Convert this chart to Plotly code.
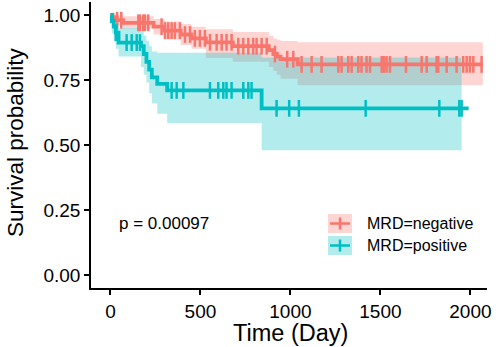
import plotly.graph_objects as go

# ---------------- data ----------------
# MRD=negative (red)
neg_time  = [0, 12, 35, 70, 240, 300, 390, 450, 530, 680, 880, 905, 925, 945, 1040]
neg_surv  = [1.0, 0.99, 0.98, 0.97, 0.955, 0.94, 0.925, 0.91, 0.895, 0.88, 0.865, 0.85, 0.84, 0.83, 0.81]
neg_upper = [1.0, 1.0, 1.0, 0.995, 0.985, 0.975, 0.965, 0.955, 0.945, 0.935, 0.92, 0.91, 0.905, 0.90, 0.895]
neg_lower = [1.0, 0.975, 0.96, 0.948, 0.925, 0.905, 0.885, 0.87, 0.835, 0.82, 0.80, 0.785, 0.77, 0.755, 0.73]
neg_end = 2069
neg_censor = [37, 60, 155, 164, 182, 192, 210, 284, 303, 321, 340, 358, 386, 414, 442, 469, 497,
              525, 553, 590, 618, 645, 673, 710, 738, 766, 793, 812, 840, 868, 914, 982, 1016,
              1062, 1118, 1173, 1266, 1284, 1321, 1340, 1377, 1395, 1423, 1442, 1507, 1519, 1534,
              1553, 1642, 1729, 1757, 1812, 1821, 1868, 1923, 1960, 1979, 1997, 2016, 2062]

# MRD=positive (teal)
pos_time  = [0, 8, 18, 30, 45, 170, 185, 200, 215, 230, 260, 315, 840]
pos_surv  = [1.0, 0.977, 0.955, 0.932, 0.894, 0.88, 0.85, 0.82, 0.79, 0.76, 0.735, 0.71, 0.641]
pos_upper = [1.0, 1.0, 1.0, 0.98, 0.95, 0.945, 0.92, 0.90, 0.88, 0.86, 0.855, 0.855, 0.837]
pos_lower = [1.0, 0.93, 0.90, 0.87, 0.84, 0.80, 0.77, 0.74, 0.70, 0.66, 0.62, 0.585, 0.48]
pos_end = 1990
pos_ci_end = 1951
pos_censor = [30, 90, 118, 146, 164, 340, 368, 405, 553, 599, 627, 645, 673, 738, 766, 784,
              923, 993, 1047, 1418, 1827, 1938, 1951]

groups = ["MRD=negative", "MRD=positive"]
p_text = "p = 0.00097"
x_title = "Time (Day)"
y_title = "Survival probability"
x_ticks = [0, 500, 1000, 1500, 2000]
y_ticks = [0, 0.25, 0.5, 0.75, 1.0]
y_ticklabels = ["0.00", "0.25", "0.50", "0.75", "1.00"]

RED = "#F8766D"
TEAL = "#00BFC4"
RED_FILL = "rgba(248,118,109,0.3)"
TEAL_FILL = "rgba(0,191,196,0.3)"
FONT = "Liberation Sans, Arial, Helvetica, sans-serif"


def step_at(times, vals, t):
    v = vals[0]
    for ti, vi in zip(times, vals):
        if ti <= t:
            v = vi
    return v


fig = go.Figure()

# confidence bands
for times, up, lo, end, fill in [
    (neg_time, neg_upper, neg_lower, neg_end, RED_FILL),
    (pos_time, pos_upper, pos_lower, pos_ci_end, TEAL_FILL),
]:
    xs = times + [end]
    fig.add_trace(go.Scatter(x=xs, y=lo + [lo[-1]], mode="lines", line=dict(width=0, shape="hv"),
                             hoverinfo="skip", showlegend=False))
    fig.add_trace(go.Scatter(x=xs, y=up + [up[-1]], mode="lines", line=dict(width=0, shape="hv"),
                             fill="tonexty", fillcolor=fill, hoverinfo="skip", showlegend=False))

# survival curves
for times, surv, end, col, cens in [
    (neg_time, neg_surv, neg_end, RED, neg_censor),
    (pos_time, pos_surv, pos_end, TEAL, pos_censor),
]:
    fig.add_trace(go.Scatter(x=times + [end], y=surv + [surv[-1]], mode="lines",
                             line=dict(color=col, width=3.8, shape="hv"), showlegend=False))
    fig.add_trace(go.Scatter(x=cens, y=[step_at(times, surv, t) for t in cens], mode="markers",
                             marker=dict(symbol="line-ns", size=12, line=dict(color=col, width=2.5)),
                             showlegend=False))

# ---- manual legend / labels (layout only) ----
def px_x(px):
    return (px - 91) / 396.0


def px_y(py):
    return (288 - py) / 286.0


shapes = []
annotations = []
for i, (name, col, fill) in enumerate(zip(groups, [RED, TEAL], [RED_FILL, TEAL_FILL])):
    top = 214 + i * 22
    yc = top + 9.5
    shapes.append(dict(type="rect", xref="paper", yref="paper", x0=px_x(328), x1=px_x(352),
                       y0=px_y(top + 19), y1=px_y(top), fillcolor=fill, line=dict(width=0)))
    shapes.append(dict(type="line", xref="paper", yref="paper", x0=px_x(330), x1=px_x(350),
                       y0=px_y(yc), y1=px_y(yc), line=dict(color=col, width=2.5)))
    shapes.append(dict(type="line", xref="paper", yref="paper", x0=px_x(340), x1=px_x(340),
                       y0=px_y(yc - 6), y1=px_y(yc + 6), line=dict(color=col, width=2.5)))
    annotations.append(dict(text=name, xref="paper", yref="paper", x=px_x(365), y=px_y(yc),
                            xanchor="left", yanchor="middle", showarrow=False,
                            font=dict(family=FONT, size=16, color="black")))

annotations.append(dict(text=p_text, xref="paper", yref="paper", x=px_x(117), y=px_y(223),
                        xanchor="left", yanchor="middle", showarrow=False,
                        font=dict(family=FONT, size=17, color="black")))
annotations.append(dict(text=x_title, xref="paper", yref="paper", x=px_x(290), y=px_y(347),
                        xanchor="center", yanchor="bottom", showarrow=False, borderpad=0,
                        font=dict(family=FONT, size=23.5, color="black")))
annotations.append(dict(text=y_title, xref="paper", yref="paper", x=px_x(15), y=px_y(142),
                        xanchor="center", yanchor="middle", showarrow=False, textangle=-90,
                        font=dict(family=FONT, size=22.5, color="black")))

fig.update_layout(
    width=498, height=347,
    margin=dict(l=91, r=11, t=2, b=59),
    paper_bgcolor="white", plot_bgcolor="white",
    font=dict(family=FONT, color="black"),
    shapes=shapes, annotations=annotations,
    showlegend=False,
)
fig.update_xaxes(range=[-108, 2092], tickvals=x_ticks, ticks="outside", ticklen=5, tickwidth=1.5,
                 tickcolor="black", showline=True, linecolor="black", linewidth=1.5,
                 showgrid=False, zeroline=False, tickfont=dict(size=19, family=FONT),
                 ticklabelstandoff=0)
fig.update_yaxes(range=[-0.05, 1.05], tickvals=y_ticks, ticktext=y_ticklabels, ticks="outside",
                 ticklen=5, tickwidth=1.5, tickcolor="black", showline=True, linecolor="black",
                 linewidth=1.5, showgrid=False, zeroline=False, tickfont=dict(size=19, family=FONT))

fig.write_html("out.html", config={"displayModeBar": False},
               post_script="document.body.style.margin='0';document.body.style.padding='0';")
